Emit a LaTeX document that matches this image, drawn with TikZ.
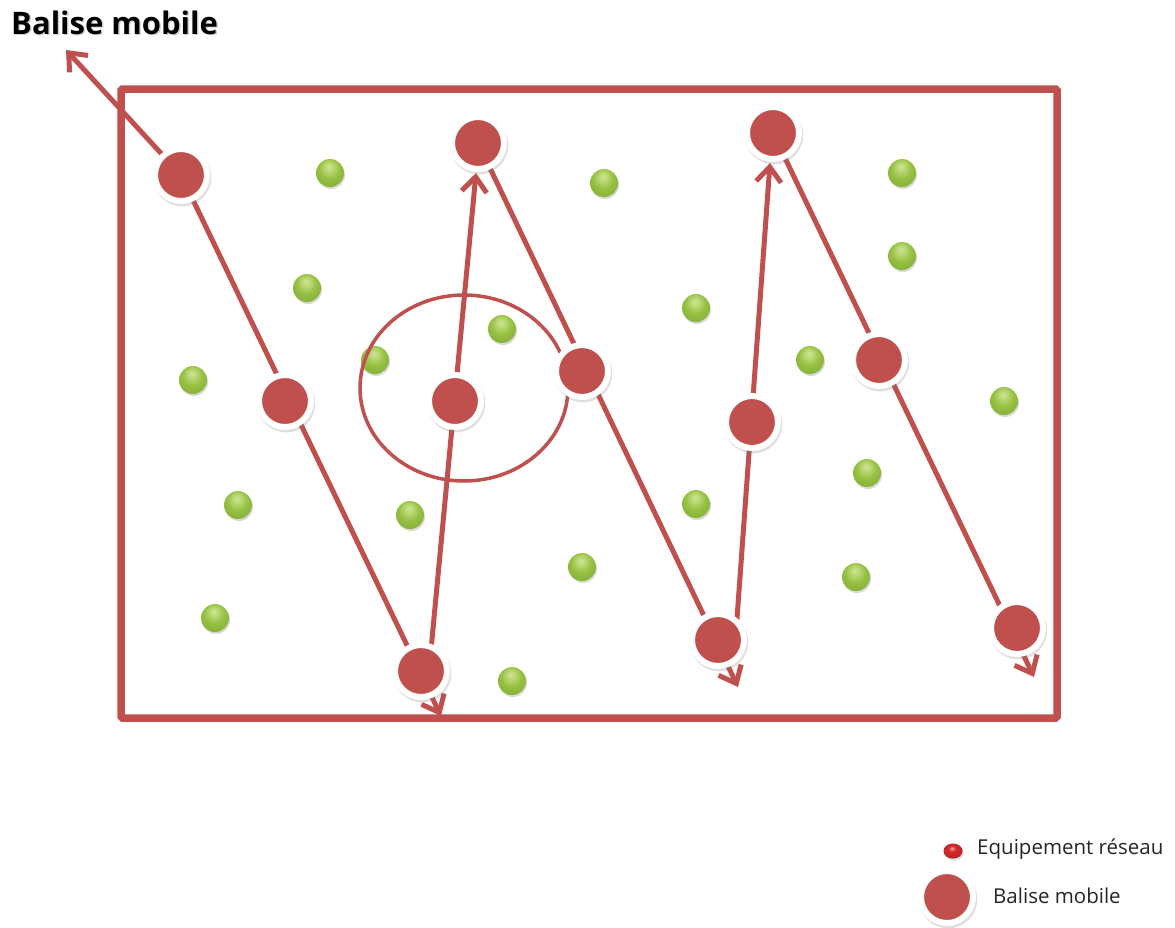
\documentclass[tikz,border=0pt]{standalone}
\usepackage{fontspec}
\setmainfont{Open Sans}
\usetikzlibrary{arrows.meta,shadows,shapes.geometric}
\definecolor{rd}{HTML}{C0504D}
\definecolor{gHi}{HTML}{CFE594}
\definecolor{gMid}{HTML}{97C142}
\definecolor{gDark}{HTML}{66922A}
\definecolor{rHi}{HTML}{F4A0A0}
\definecolor{rMid}{HTML}{D42A2A}
\definecolor{rDark}{HTML}{7A1010}
\pgfdeclareradialshading{gball}{\pgfpoint{-2bp}{12bp}}{color(0bp)=(gHi); color(8bp)=(gHi!60!gMid); color(18bp)=(gMid); color(30bp)=(gMid!70!gDark); color(37bp)=(gDark); color(60bp)=(gDark)}
\pgfdeclareradialshading{rball}{\pgfpoint{-3bp}{9bp}}{color(0bp)=(rHi); color(10bp)=(rMid); color(24bp)=(rMid!80!rDark); color(32bp)=(rDark); color(60bp)=(rDark)}
\tikzset{
  frame/.style={draw=rd, line width=7.5pt, rounded corners=1.5pt},
  zone/.style={draw=rd, line width=3.5pt},
  equip/.style={circle, minimum size=28pt, inner sep=0pt, shading=gball,
    drop shadow={opacity=0.3, shadow xshift=1pt, shadow yshift=-2pt}},
  balise/.style={circle, minimum size=52pt, inner sep=0pt, fill=rd, draw=white, line width=6pt,
    drop shadow={opacity=0.25, shadow xshift=1pt, shadow yshift=-2pt, shadow scale=1.12}},
  arr/.style={draw=rd, line width=5pt, line cap=round, -{Straight Barb[length=15pt,width=25pt]}},
  lbl/.style={anchor=west, text=black!85, font=\fontsize{20.5}{24}\selectfont, inner sep=0pt},
}
\begin{document}
\begin{tikzpicture}[x=1pt,y=-1pt]
\useasboundingbox (0,0) rectangle (1175,927);
% frame
\draw[frame] (121,89) rectangle (1057,718);
% network equipment
\foreach \n/\p in {g1/{(330,173)}, g2/{(604,183)}, g3/{(902,173)}, g4/{(902,256)}, g5/{(307,288)},
  g6/{(696,308)}, g7/{(502,329)}, g8/{(375,360)}, g9/{(810,360)}, g10/{(193,380)}, g11/{(1004,401)},
  g12/{(867,473)}, g13/{(238,505)}, g14/{(410,515)}, g15/{(696,504)}, g16/{(582,567)}, g17/{(856,577)},
  g18/{(215,618)}, g19/{(512,681)}}
  \node[equip] (\n) at \p {};
% coverage zone
\draw[zone] (464,388) ellipse [x radius=104, y radius=93];
% positions of mobile beacon
\coordinate (A) at (181,175);
\coordinate (B) at (285,401);
\coordinate (C) at (421,671);
\coordinate (D) at (455,401);
\coordinate (E) at (478,143);
\coordinate (F) at (582,371);
\coordinate (G) at (718,640);
\coordinate (H) at (752,422);
\coordinate (I) at (773,133);
\coordinate (J) at (879,360);
\coordinate (K) at (1017,628);
% path ends
\coordinate (t1) at (66,50);
\coordinate (t2) at (441,716);
\coordinate (s3) at (429,671);
\coordinate (t3) at (476,173);
\coordinate (t4) at (738,687);
\coordinate (s5) at (734,660);
\coordinate (t5) at (770,163);
\coordinate (t6) at (1034,677);
\draw[arr] (A) -- (t1);
\draw[arr] (A) -- (t2);
\draw[arr] (s3) -- (t3);
\draw[arr] (E) -- (t4);
\draw[arr] (s5) -- (t5);
\draw[arr] (I) -- (t6);
\foreach \n in {A,B,C,D,E,F,G,H,I,J,K}
  \node[balise] (n\n) at (\n) {};
% title
\node[anchor=west, inner sep=0pt, text=black!30, opacity=0.6, font=\bfseries\fontsize{31}{36}\selectfont] (titleshadow) at (12.5,24) {Balise mobile};
\node[anchor=west, inner sep=0pt, text=black, font=\bfseries\fontsize{31}{36}\selectfont] (title) at (11,22.5) {Balise mobile};
% legend
\node[ellipse, minimum width=19pt, minimum height=15pt, inner sep=0pt, shading=rball,
  drop shadow={opacity=0.3, shadow xshift=1pt, shadow yshift=-2pt}] (leq) at (953,851) {};
\node[lbl] (leqt) at (977,849) {Equipement réseau};
\node[balise] (lbal) at (947,897) {};
\node[lbl] (lbalt) at (993,896) {Balise mobile};
\end{tikzpicture}
\end{document}
